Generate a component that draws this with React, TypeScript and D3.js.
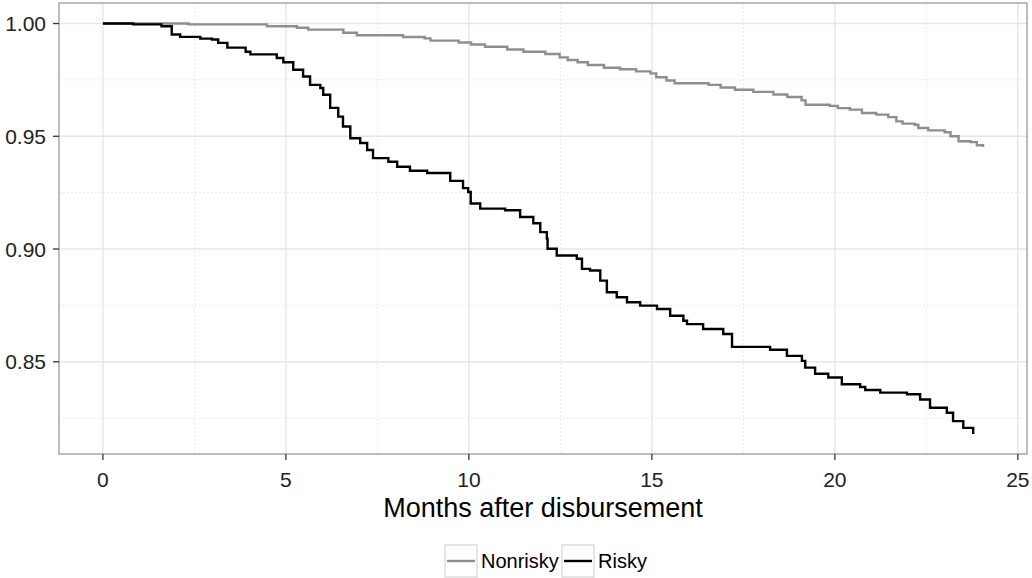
import React from "react";
import * as d3 from "d3";

const riskyMonths = [0, 0.83, 1.6, 1.88, 2.11, 2.66, 2.98, 3.15, 3.4, 3.9, 4.03, 4.75, 4.93, 5.2, 5.47, 5.66, 5.94, 6.02, 6.21, 6.43, 6.56, 6.76, 7.03, 7.22, 7.38, 7.8, 8.04, 8.39, 8.86, 9.49, 9.84, 9.98, 10.05, 10.31, 10.99, 11.4, 11.76, 11.95, 12.13, 12.15, 12.4, 12.95, 13.09, 13.31, 13.59, 13.77, 14.04, 14.32, 14.68, 15.14, 15.5, 15.86, 15.96, 16.4, 16.95, 17.19, 18.23, 18.69, 19.1, 19.19, 19.46, 19.82, 20.19, 20.69, 20.83, 21.24, 21.97, 22.33, 22.6, 23.06, 23.23, 23.51, 23.78];
const riskySurv = [1.0, 0.9996, 0.9988, 0.9951, 0.9941, 0.9933, 0.9929, 0.9914, 0.9893, 0.9875, 0.9863, 0.9847, 0.9828, 0.9795, 0.9765, 0.9728, 0.9714, 0.9684, 0.9626, 0.9587, 0.9543, 0.9491, 0.947, 0.9439, 0.9403, 0.9387, 0.9365, 0.9347, 0.9337, 0.9302, 0.927, 0.9253, 0.9202, 0.9179, 0.9172, 0.9142, 0.9114, 0.9075, 0.9046, 0.9001, 0.8971, 0.8957, 0.8912, 0.8905, 0.886, 0.8808, 0.8786, 0.8764, 0.8749, 0.8734, 0.8704, 0.8682, 0.8667, 0.8645, 0.8623, 0.8566, 0.8553, 0.8526, 0.8504, 0.8474, 0.8447, 0.843, 0.84, 0.8388, 0.8375, 0.8363, 0.8356, 0.8333, 0.8296, 0.8274, 0.8237, 0.8207, 0.818];

const nonriskyMonths = [0, 2.34, 4.48, 5.3, 5.61, 6.57, 6.94, 8.2, 8.79, 8.95, 9.72, 10.06, 10.44, 11.05, 11.49, 12.09, 12.48, 12.7, 12.97, 13.25, 13.69, 14.13, 14.57, 14.96, 15.12, 15.4, 15.62, 16.55, 16.88, 17.27, 17.77, 18.32, 18.7, 19.09, 19.2, 19.86, 20.08, 20.41, 20.74, 21.13, 21.46, 21.68, 21.85, 22.18, 22.28, 22.55, 23.0, 23.16, 23.38, 23.71, 23.88, 24.05];
const nonriskySurv = [1.0, 0.9996, 0.9988, 0.9981, 0.9973, 0.9959, 0.9948, 0.994, 0.9934, 0.9924, 0.9916, 0.9907, 0.9897, 0.9885, 0.9875, 0.9865, 0.985, 0.9838, 0.9828, 0.9816, 0.9804, 0.9797, 0.9788, 0.9779, 0.9762, 0.9747, 0.9735, 0.9728, 0.9716, 0.9706, 0.9697, 0.9685, 0.9674, 0.9659, 0.964, 0.9635, 0.9625, 0.9618, 0.9603, 0.9596, 0.9585, 0.9566, 0.9556, 0.9551, 0.9537, 0.9526, 0.9518, 0.95, 0.9478, 0.9474, 0.946, 0.9452];

const xTicks = [0, 5, 10, 15, 20, 25];
const xMinor = [2.5, 7.5, 12.5, 17.5, 22.5];
const yTicks = [0.85, 0.9, 0.95, 1.0];
const yMinor = [0.825, 0.875, 0.925, 0.975];
const seriesNames = ["Nonrisky", "Risky"];
const seriesColors = ["#8e8e8e", "#000000"];

const W = 1032;
const H = 578;
const panel = { left: 59, right: 1027, top: 3, bottom: 454 };
const font = "'Liberation Sans', Arial, sans-serif";

export default function App() {
  const x = d3.scaleLinear().domain([-1.2, 25.25]).range([panel.left, panel.right]);
  const y = d3.scaleLinear().domain([0.8091, 1.0091]).range([panel.bottom, panel.top]);
  const line = d3
    .line<[number, number]>()
    .x((d) => x(d[0]))
    .y((d) => y(d[1]))
    .curve(d3.curveStepAfter);

  const nonrisky: [number, number][] = nonriskyMonths.map((m, i) => [m, nonriskySurv[i]]);
  const risky: [number, number][] = riskyMonths.map((m, i) => [m, riskySurv[i]]);
  const series = [nonrisky, risky];

  const legendKeys = [445, 562];
  const legendY = 545;
  const keySize = 32;

  return (
    <svg
      width={W}
      height={H}
      style={{ position: "absolute", left: 0, top: 0, background: "#fff" }}
      fontFamily={font}
    >
      <rect x={0} y={0} width={W} height={H} fill="#fff" />
      <defs>
        <clipPath id="panelClip">
          <rect x={panel.left} y={panel.top} width={panel.right - panel.left} height={panel.bottom - panel.top} />
        </clipPath>
      </defs>
      {xMinor.map((v) => (
        <line key={"xm" + v} x1={x(v)} x2={x(v)} y1={panel.top} y2={panel.bottom} stroke="#e3e3e3" strokeWidth={1} strokeDasharray="1.5,2.5" />
      ))}
      {yMinor.map((v) => (
        <line key={"ym" + v} x1={panel.left} x2={panel.right} y1={y(v)} y2={y(v)} stroke="#e3e3e3" strokeWidth={1} strokeDasharray="1.5,2.5" />
      ))}
      {xTicks.map((v) => (
        <line key={"xg" + v} x1={x(v)} x2={x(v)} y1={panel.top} y2={panel.bottom} stroke="#e6e6e6" strokeWidth={1.4} />
      ))}
      {yTicks.map((v) => (
        <line key={"yg" + v} x1={panel.left} x2={panel.right} y1={y(v)} y2={y(v)} stroke="#e6e6e6" strokeWidth={1.4} />
      ))}
      <g clipPath="url(#panelClip)">
        {series.map((s, i) => (
          <path key={i} d={line(s) || ""} fill="none" stroke={seriesColors[i]} strokeWidth={2.4} />
        ))}
      </g>
      <rect
        x={panel.left}
        y={panel.top}
        width={panel.right - panel.left}
        height={panel.bottom - panel.top}
        fill="none"
        stroke="#9a9a9a"
        strokeWidth={1.3}
      />
      {xTicks.map((v) => (
        <g key={"xt" + v}>
          <line x1={x(v)} x2={x(v)} y1={panel.bottom} y2={panel.bottom + 6} stroke="#333" strokeWidth={1.3} />
          <text x={x(v)} y={487} textAnchor="middle" fontSize={21} fill="#222">
            {v}
          </text>
        </g>
      ))}
      {yTicks.map((v) => (
        <g key={"yt" + v}>
          <line x1={panel.left - 6} x2={panel.left} y1={y(v)} y2={y(v)} stroke="#333" strokeWidth={1.3} />
          <text x={panel.left - 13} y={y(v) + 7.5} textAnchor="end" fontSize={21} fill="#222">
            {v.toFixed(2)}
          </text>
        </g>
      ))}
      <text x={(panel.left + panel.right) / 2} y={517} textAnchor="middle" fontSize={27} fill="#000">
        Months after disbursement
      </text>
      {seriesNames.map((name, i) => (
        <g key={name}>
          <rect x={legendKeys[i]} y={legendY} width={keySize} height={keySize} fill="#fff" stroke="#cccccc" strokeWidth={1} />
          <line
            x1={legendKeys[i] + 2}
            x2={legendKeys[i] + keySize - 2}
            y1={legendY + keySize / 2}
            y2={legendY + keySize / 2}
            stroke={seriesColors[i]}
            strokeWidth={2.4}
          />
          <text x={legendKeys[i] + keySize + 4} y={legendY + keySize / 2 + 7} fontSize={20} fill="#000">
            {name}
          </text>
        </g>
      ))}
    </svg>
  );
}
